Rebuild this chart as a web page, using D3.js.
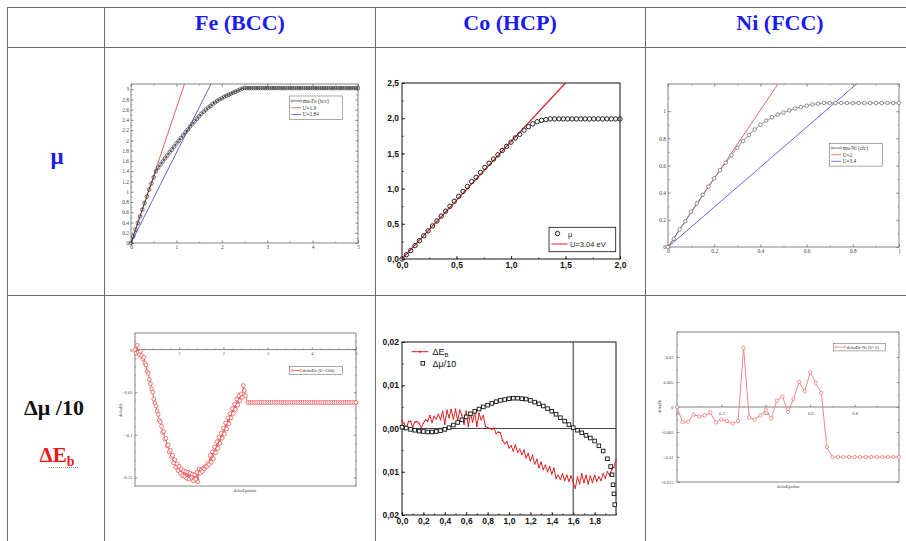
<!DOCTYPE html>
<html>
<head>
<meta charset="utf-8">
<script src="https://cdn.jsdelivr.net/npm/d3@7"></script>
<style>
  body { margin: 0; background: #fff; }
</style>
</head>
<body>
<div id="table"></div>
<script>
"use strict";

// table texts
const headers = ["Fe (BCC)", "Co (HCP)", "Ni (FCC)"];

// Fe (bcc) mu, x step 0.05 from 0 to 5
const feMuStep = 0.05;
const feMu = [0, 0.13, 0.26, 0.39, 0.52, 0.65, 0.78, 0.91, 1.04, 1.16,
  1.28, 1.4, 1.47, 1.53, 1.59, 1.65, 1.71, 1.77, 1.82, 1.88,
  1.94, 1.99, 2.05, 2.1, 2.16, 2.21, 2.27, 2.32, 2.37, 2.42,
  2.47, 2.52, 2.56, 2.6, 2.64, 2.67, 2.71, 2.74, 2.77, 2.8,
  2.82, 2.85, 2.87, 2.89, 2.91, 2.93, 2.95, 2.97, 2.99, 3.01,
  3.02, 3.02, 3.02, 3.02, 3.02, 3.02, 3.02, 3.02, 3.02, 3.02,
  3.02, 3.02, 3.02, 3.02, 3.02, 3.02, 3.02, 3.02, 3.02, 3.02,
  3.02, 3.02, 3.02, 3.02, 3.02, 3.02, 3.02, 3.02, 3.02, 3.02,
  3.02, 3.02, 3.02, 3.02, 3.02, 3.02, 3.02, 3.02, 3.02, 3.02,
  3.02, 3.02, 3.02, 3.02, 3.02, 3.02, 3.02, 3.02, 3.02, 3.02, 3.02];
const feULabels = ["U=1.9", "U=2.84"];
const feUSlopes = [2.63, 1.76];

// Co (hcp) mu, x step 0.04 from 0 to 2
const coMuStep = 0.04;
const coMu = [0, 0.06, 0.12, 0.19, 0.26, 0.33, 0.40, 0.47, 0.54, 0.61,
  0.68, 0.75, 0.82, 0.89, 0.96, 1.03, 1.10, 1.16, 1.23, 1.30,
  1.36, 1.42, 1.48, 1.54, 1.60, 1.66, 1.72, 1.77, 1.83, 1.88,
  1.92, 1.95, 1.97, 1.98, 1.99, 1.99, 1.99, 1.99, 1.99, 1.99,
  1.99, 1.99, 1.99, 1.99, 1.99, 1.99, 1.99, 1.99, 1.99, 1.99, 1.99];
const coULabel = "U=3.04 eV";
const coUSlope = 1.667;

// Ni (fcc) mu, x step 0.025 from 0 to 1
const niMuStep = 0.025;
const niMu = [0, 0.06, 0.13, 0.19, 0.26, 0.32, 0.385, 0.445, 0.505, 0.565,
  0.62, 0.675, 0.73, 0.78, 0.825, 0.865, 0.9, 0.93, 0.955, 0.975,
  0.99, 1.005, 1.02, 1.03, 1.04, 1.05, 1.055, 1.06, 1.06, 1.06,
  1.06, 1.06, 1.06, 1.06, 1.06, 1.06, 1.06, 1.06, 1.06, 1.06, 1.06];
const niULabels = ["U=2", "U=3.4"];
const niUSlopes = [2.52, 1.47];

// Fe deltaEb: step 0.025 up to 2.5, then step 0.05 from 2.55 to 5
const feDeStep = 0.025;
const feDe = [0, -0.004, 0.005, -0.003, -0.006, -0.002, -0.007, -0.011, -0.009, -0.016,
  -0.018, -0.026, -0.028, -0.035, -0.04, -0.046, -0.05, -0.058, -0.063, -0.066,
  -0.072, -0.076, -0.083, -0.085, -0.09, -0.097, -0.096, -0.105, -0.104, -0.113,
  -0.112, -0.12, -0.118, -0.126, -0.124, -0.133, -0.129, -0.138, -0.134, -0.142,
  -0.137, -0.145, -0.14, -0.148, -0.142, -0.149, -0.143, -0.151, -0.144, -0.152,
  -0.145, -0.15, -0.146, -0.154, -0.147, -0.152, -0.144, -0.155, -0.14, -0.145,
  -0.141, -0.143, -0.139, -0.14, -0.137, -0.137, -0.133, -0.135, -0.124, -0.132,
  -0.12, -0.128, -0.114, -0.121, -0.108, -0.116, -0.103, -0.11, -0.098, -0.104,
  -0.092, -0.099, -0.086, -0.093, -0.08, -0.087, -0.075, -0.08, -0.069, -0.075,
  -0.064, -0.07, -0.058, -0.065, -0.054, -0.06, -0.052, -0.056, -0.042, -0.048, -0.054];
const feDeFlatStart = 2.55, feDeFlatStep = 0.05;
const feDeFlat = [-0.062, -0.062, -0.062, -0.062, -0.062, -0.062, -0.062, -0.062, -0.062, -0.062,
  -0.062, -0.062, -0.062, -0.062, -0.062, -0.062, -0.062, -0.062, -0.062, -0.062,
  -0.062, -0.062, -0.062, -0.062, -0.062, -0.062, -0.062, -0.062, -0.062, -0.062,
  -0.062, -0.062, -0.062, -0.062, -0.062, -0.062, -0.062, -0.062, -0.062, -0.062,
  -0.062, -0.062, -0.062, -0.062, -0.062, -0.062, -0.062, -0.062, -0.062, -0.062];

// Co deltaE_B, x step 0.02 from 0 to 2
const coDeStep = 0.02;
const coDe = [0.0018, 0.0012, 0.0000, 0.0016, 0.0017, 0.0003, 0.0015, 0.0016, 0.0012, 0.0002,
  0.0012, 0.0020, 0.0017, 0.0030, 0.0014, 0.0028, 0.0022, 0.0033, 0.0020, 0.0040,
  0.0010, 0.0042, 0.0025, 0.0044, 0.0022, 0.0045, 0.0018, 0.0042, 0.0030, 0.0010,
  0.0040, 0.0005, 0.0035, 0.0015, 0.0038, 0.0005, 0.0035, 0.0020, 0.0030, 0.0005,
  0.0002, 0.0000, -0.0002, 0.0001, -0.0012, -0.0008, -0.0010, -0.0028, -0.0035, -0.0030,
  -0.0045, -0.0040, -0.0052, -0.0038, -0.0055, -0.0048, -0.0060, -0.0050, -0.0068, -0.0058,
  -0.0075, -0.0062, -0.0082, -0.0072, -0.0090, -0.0078, -0.0095, -0.0085, -0.0100, -0.0088,
  -0.0105, -0.0092, -0.0115, -0.0108, -0.0118, -0.0105, -0.0120, -0.0108, -0.0122, -0.0110,
  -0.0125, -0.0138, -0.0112, -0.0128, -0.0105, -0.0125, -0.0108, -0.0128, -0.0110, -0.0125,
  -0.0108, -0.0122, -0.0112, -0.0120, -0.0105, -0.0115, -0.0100, -0.0108, -0.0095, -0.0090, -0.0072];

// Co delta mu / 10, x step 0.04 up to 1.92, then a steep tail
const coDmStep = 0.04;
const coDm = [0.0003, 0.0001, -0.0002, -0.0004, -0.0006, -0.0007, -0.0008, -0.0008, -0.0007, -0.0005,
  -0.0002, 0.0002, 0.0008, 0.0014, 0.0020, 0.0027, 0.0034, 0.0040, 0.0045, 0.0050,
  0.0054, 0.0058, 0.0062, 0.0065, 0.0067, 0.0069, 0.0070, 0.0070, 0.0069, 0.0068,
  0.0065, 0.0061, 0.0057, 0.0052, 0.0046, 0.0040, 0.0033, 0.0025, 0.0017, 0.0009,
  0.0002, -0.0004, -0.0010, -0.0016, -0.0022, -0.0029, -0.0040, -0.0052, -0.0070];
const coDmTailX = [1.95, 1.963, 1.972, 1.981, 1.988];
const coDmTailY = [-0.0088, -0.0107, -0.013, -0.0151, -0.0176];

// Ni deltaEb, x step 0.025 from 0 to 1
const niDeStep = 0.025;
const niDe = [0, -0.003, -0.0029, -0.0015, -0.0019, -0.0017, -0.0011, -0.0031, -0.0025, -0.0028,
  -0.0033, -0.0028, 0.0118, -0.0021, -0.0025, -0.0017, -0.0005, -0.0023, 0.0013, 0.0021,
  -0.001, 0.0016, 0.005, 0.0031, 0.0069, 0.0048, 0.0028, -0.008, -0.01, -0.01,
  -0.01, -0.01, -0.01, -0.01, -0.01, -0.01, -0.01, -0.01, -0.01, -0.01, -0.01];

const SERIF = "'Liberation Serif', 'Times New Roman', serif";
const SANS = "'Liberation Sans', Arial, sans-serif";

const svg = d3.select("#table").append("svg")
  .attr("width", 906).attr("height", 541).style("display", "block");

// the Co cells crop their images a little inside the column line
const defs = svg.append("defs");
defs.append("clipPath").attr("id", "coClipTop")
  .append("rect").attr("x", 382.5).attr("y", 48).attr("width", 262).attr("height", 247);
defs.append("clipPath").attr("id", "coClipBottom")
  .append("rect").attr("x", 382.5).attr("y", 296).attr("width", 262).attr("height", 245);

// table grid
const colX = [7, 104, 375, 645];
const rowY = [7, 47, 295];
const grid = svg.append("g").attr("stroke", "#6b6b6b").attr("stroke-width", 1);
colX.forEach(x => grid.append("line").attr("x1", x + 0.5).attr("x2", x + 0.5).attr("y1", 7).attr("y2", 541));
rowY.forEach(y => grid.append("line").attr("x1", 7).attr("x2", 906).attr("y1", y + 0.5).attr("y2", y + 0.5));

// headers
const headX = [240, 510, 780];
headers.forEach((h, i) => {
  svg.append("text").attr("x", headX[i]).attr("y", 30)
    .attr("text-anchor", "middle").attr("font-family", SERIF).attr("font-weight", "bold")
    .attr("font-size", 22).attr("fill", "#1b1bf0").text(h);
});

// row labels
svg.append("text").attr("x", 57).attr("y", 164).attr("text-anchor", "middle")
  .attr("font-family", SERIF).attr("font-weight", "bold").attr("font-size", 23)
  .attr("fill", "#1b1bf0").text("μ");
svg.append("text").attr("x", 54).attr("y", 415).attr("text-anchor", "middle")
  .attr("font-family", SERIF).attr("font-weight", "bold").attr("font-size", 22)
  .attr("fill", "#111").text("Δμ /10");
const eb = svg.append("text").attr("x", 57).attr("y", 462).attr("text-anchor", "middle")
  .attr("font-family", SERIF).attr("font-weight", "bold").attr("font-size", 21).attr("fill", "#ee1515");
eb.append("tspan").text("ΔE");
eb.append("tspan").attr("font-size", 14).attr("dy", 4).text("b");
svg.append("line").attr("x1", 49).attr("x2", 78).attr("y1", 467.5).attr("y2", 467.5)
  .attr("stroke", "#e06060").attr("stroke-width", 0.8).attr("stroke-dasharray", "1,1");

function seq(a, b, s) {
  const n = Math.round((b - a) / s);
  return d3.range(n + 1).map(i => +(a + i * s).toFixed(6));
}
const gfmt = d3.format("~g");
const comma = f => v => d3.format(f)(v).replace(".", ",");
const blank = () => "";

function drawAxis(g, gen, tx, ty, vals, size, pad, fmt, st) {
  const a = g.append("g").attr("transform", `translate(${tx},${ty})`)
    .call(gen.tickValues(vals).tickSizeInner(size).tickSizeOuter(0).tickPadding(pad).tickFormat(fmt));
  a.select(".domain").remove();
  a.attr("font-size", st.fs).attr("font-family", st.family).attr("font-weight", st.weight);
  a.selectAll("line").attr("stroke", st.tick).attr("stroke-width", st.tw);
  a.selectAll("text").attr("fill", st.text);
  return a;
}

// xmgrace style panel
function gracePanel(box, xd, yd, o) {
  const g = svg.append("g");
  const x = d3.scaleLinear().domain(xd).range([box.l, box.r]);
  const y = d3.scaleLinear().domain(yd).range([box.b, box.t]);
  const st = { fs: o.fs, family: SERIF, weight: "normal", tick: "#777", text: "#444", tw: 0.6 };
  const ax = o.zeroAxis ? y(0) : box.b;
  if (o.zeroAxis) {
    g.append("line").attr("x1", box.l).attr("x2", box.r).attr("y1", ax).attr("y2", ax)
      .attr("stroke", "#666").attr("stroke-width", 0.8);
  }
  drawAxis(g, d3.axisBottom(x), 0, ax, o.xMaj, -o.tl, o.xPad, gfmt, st);
  drawAxis(g, d3.axisBottom(x), 0, ax, o.xMin, -o.tl / 2, 0, blank, st);
  if (!o.zeroAxis) {
    drawAxis(g, d3.axisTop(x), 0, box.t, o.xMaj, -o.tl, 0, blank, st);
    drawAxis(g, d3.axisTop(x), 0, box.t, o.xMin, -o.tl / 2, 0, blank, st);
  }
  drawAxis(g, d3.axisLeft(y), box.l, 0, o.yMaj, -o.tl, o.yPad, gfmt, st);
  drawAxis(g, d3.axisLeft(y), box.l, 0, o.yMin, -o.tl / 2, 0, blank, st);
  drawAxis(g, d3.axisRight(y), box.r, 0, o.yMaj, -o.tl, 0, blank, st);
  drawAxis(g, d3.axisRight(y), box.r, 0, o.yMin, -o.tl / 2, 0, blank, st);
  g.append("rect").attr("x", box.l).attr("y", box.t)
    .attr("width", box.r - box.l).attr("height", box.b - box.t)
    .attr("fill", "none").attr("stroke", "#666").attr("stroke-width", 0.8);
  return { g, x, y };
}

function series(g, x, y, pts, color, r, lw, fill) {
  g.append("path").datum(pts)
    .attr("d", d3.line().x(d => x(d[0])).y(d => y(d[1])))
    .attr("fill", "none").attr("stroke", color).attr("stroke-width", lw);
  g.append("g").selectAll("circle").data(pts).join("circle")
    .attr("cx", d => x(d[0])).attr("cy", d => y(d[1])).attr("r", r)
    .attr("fill", fill).attr("stroke", color).attr("stroke-width", 0.7);
}

function fitLine(g, x, y, slope, color, w) {
  const xe = Math.min(x.domain()[1], y.domain()[1] / slope);
  g.append("path").datum([[0, 0], [xe, slope * xe]])
    .attr("d", d3.line().x(d => x(d[0])).y(d => y(d[1])))
    .attr("fill", "none").attr("stroke", color).attr("stroke-width", w);
}

function stepPts(vals, step, start) {
  return vals.map((v, i) => [+((start || 0) + i * step).toFixed(6), v]);
}

function graceLegend(g, bx, by, bw, rows, fs, rowH) {
  g.append("rect").attr("x", bx).attr("y", by).attr("width", bw)
    .attr("height", rows.length * rowH + 3).attr("fill", "#fff")
    .attr("stroke", "#555").attr("stroke-width", 0.5);
  rows.forEach((r, i) => {
    const cy = by + 1.5 + rowH / 2 + i * rowH;
    g.append("line").attr("x1", bx + 2).attr("x2", bx + 12).attr("y1", cy).attr("y2", cy)
      .attr("stroke", r.color).attr("stroke-width", 0.7);
    if (r.sym) {
      [bx + 2.5, bx + 11.5].forEach(cx => g.append("circle").attr("cx", cx).attr("cy", cy)
        .attr("r", 1.1).attr("fill", "#fff").attr("stroke", r.color).attr("stroke-width", 0.5));
    }
    g.append("text").attr("x", bx + 13.5).attr("y", cy + fs * 0.35)
      .attr("font-family", SERIF).attr("font-size", fs).attr("fill", "#333").text(r.text);
  });
}

function graceTitle(g, x, y, txt, rot) {
  g.append("text").attr("transform", `translate(${x},${y}) rotate(${rot})`)
    .attr("text-anchor", "middle").attr("font-family", SERIF).attr("font-size", 4.5)
    .attr("fill", "#444").text(txt);
}

// ---- Fe mu ----
{
  const p = gracePanel({ l: 131, t: 84, r: 358, b: 243 }, [0, 5], [0, 3.1], {
    fs: 5.5, tl: 3, xPad: 2.5, yPad: 2,
    xMaj: seq(0, 5, 1), xMin: seq(0, 5, 0.5), yMaj: seq(0, 3, 0.2), yMin: seq(0, 3.1, 0.1)
  });
  fitLine(p.g, p.x, p.y, feUSlopes[0], "#e23b3b", 0.8);
  fitLine(p.g, p.x, p.y, feUSlopes[1], "#3b3be0", 0.8);
  series(p.g, p.x, p.y, stepPts(feMu, feMuStep), "#333", 1.8, 0.8, "none");
  graceLegend(p.g, 289.3, 96, 53, [
    { text: "mu-Fe (bcc)", color: "#444", sym: true },
    { text: feULabels[0], color: "#e23b3b" },
    { text: feULabels[1], color: "#3b3be0" }], 5.3, 6.8);
}

// ---- Ni mu ----
{
  const p = gracePanel({ l: 668, t: 84, r: 899, b: 247 }, [0, 1], [0, 1.2], {
    fs: 5.5, tl: 3, xPad: 2.5, yPad: 2,
    xMaj: seq(0, 1, 0.2), xMin: seq(0, 1, 0.1), yMaj: seq(0, 1, 0.2), yMin: seq(0, 1.2, 0.1)
  });
  fitLine(p.g, p.x, p.y, niUSlopes[0], "#e64040", 0.8);
  fitLine(p.g, p.x, p.y, niUSlopes[1], "#4040e0", 0.8);
  series(p.g, p.x, p.y, stepPts(niMu, niMuStep), "#666", 1.8, 0.7, "#fff");
  graceLegend(p.g, 829.3, 143.3, 53, [
    { text: "mu-Ni (cfc)", color: "#555", sym: true },
    { text: niULabels[0], color: "#e64040" },
    { text: niULabels[1], color: "#4040e0" }], 5.3, 6.6);
}

// ---- Fe deltaEb ----
{
  const p = gracePanel({ l: 135, t: 333, r: 356, b: 486 }, [0, 5], [-0.16, 0.0195], {
    fs: 4.5, tl: 2.5, zeroAxis: true, xPad: 2, yPad: 2.5,
    xMaj: seq(0, 5, 1), xMin: seq(0, 5, 0.2), yMaj: seq(-0.15, 0, 0.05), yMin: seq(-0.16, 0.01, 0.01)
  });
  const pts = stepPts(feDe, feDeStep).concat(stepPts(feDeFlat, feDeFlatStep, feDeFlatStart));
  series(p.g, p.x, p.y, pts, "#ee4040", 1.9, 0.8, "#fff");
  graceLegend(p.g, 289.3, 366.7, 53, [{ text: "deltaEb (U=2.84)", color: "#ee4040", sym: true }], 4.5, 4.6);
  graceTitle(p.g, 121.5, 410, "deltaEb", -90);
  graceTitle(p.g, 245, 492, "deltaEpsilon", 0);
}

// ---- Ni deltaEb ----
{
  const p = gracePanel({ l: 677, t: 332, r: 899, b: 482 }, [0, 1], [-0.015, 0.015], {
    fs: 4.5, tl: 2.5, zeroAxis: true, xPad: 5, yPad: 3.5,
    xMaj: seq(0, 0.8, 0.2), xMin: seq(0, 1, 0.1), yMaj: seq(-0.015, 0.01, 0.005), yMin: seq(-0.015, 0.015, 0.0025)
  });
  series(p.g, p.x, p.y, stepPts(niDe, niDeStep), "#f06a6a", 1.7, 0.8, "#fff");
  graceLegend(p.g, 833.3, 343.3, 52.4, [{ text: "deltaEb-Ni (U=2)", color: "#f06a6a", sym: true }], 4.5, 4.6);
  graceTitle(p.g, 661, 406.7, "deltaEb", -90);
  graceTitle(p.g, 788.3, 488, "deltaEpsilon", 0);
}

// origin style panel (Co column)
function originPanel(box, xd, yd, o, clip) {
  const g = svg.append("g").attr("clip-path", `url(#${clip})`);
  const x = d3.scaleLinear().domain(xd).range([box.l, box.r]);
  const y = d3.scaleLinear().domain(yd).range([box.b, box.t]);
  const st = { fs: 8.5, family: SANS, weight: "bold", tick: "#111", text: "#111", tw: 0.8 };
  drawAxis(g, d3.axisBottom(x), 0, box.b, o.xMaj, -3, 3, o.xFmt, st);
  drawAxis(g, d3.axisBottom(x), 0, box.b, o.xMin, -1.6, 0, blank, st);
  drawAxis(g, d3.axisLeft(y), box.l, 0, o.yMaj, -3, 3, o.yFmt, st);
  drawAxis(g, d3.axisLeft(y), box.l, 0, o.yMin, -1.6, 0, blank, st);
  g.append("rect").attr("x", box.l).attr("y", box.t)
    .attr("width", box.r - box.l).attr("height", box.b - box.t)
    .attr("fill", "none").attr("stroke", "#111").attr("stroke-width", 1);
  return { g, x, y };
}

// ---- Co mu ----
{
  const p = originPanel({ l: 402, t: 83, r: 620, b: 259 }, [0, 2], [0, 2.5], {
    xMaj: seq(0, 2, 0.5), xMin: seq(0, 2, 0.25), xFmt: comma(".1f"),
    yMaj: seq(0, 2.5, 0.5), yMin: seq(0, 2.5, 0.25), yFmt: comma(".1f")
  }, "coClipTop");
  fitLine(p.g, p.x, p.y, coUSlope, "#d42222", 1.2);
  p.g.append("g").selectAll("circle").data(stepPts(coMu, coMuStep)).join("circle")
    .attr("cx", d => p.x(d[0])).attr("cy", d => p.y(d[1])).attr("r", 2.2)
    .attr("fill", "none").attr("stroke", "#222").attr("stroke-width", 1);
  const lg = p.g.append("g");
  lg.append("rect").attr("x", 549).attr("y", 227.3).attr("width", 66.7).attr("height", 24.4)
    .attr("fill", "#fff").attr("stroke", "#111").attr("stroke-width", 0.8);
  lg.append("circle").attr("cx", 557.5).attr("cy", 233.5).attr("r", 2.2)
    .attr("fill", "none").attr("stroke", "#222").attr("stroke-width", 1);
  lg.append("text").attr("x", 568).attr("y", 236.5).attr("font-family", SANS)
    .attr("font-size", 7.5).attr("fill", "#222").text("μ");
  lg.append("line").attr("x1", 551.5).attr("x2", 567.5).attr("y1", 244).attr("y2", 244)
    .attr("stroke", "#d42222").attr("stroke-width", 1.2);
  lg.append("text").attr("x", 570).attr("y", 246.8).attr("font-family", SANS)
    .attr("font-size", 7.5).attr("fill", "#222").text(coULabel);
}

// ---- Co deltaE_B and delta mu / 10 ----
{
  const p = originPanel({ l: 402, t: 342, r: 616, b: 515 }, [0, 2], [-0.02, 0.02], {
    xMaj: seq(0, 1.8, 0.2), xMin: seq(0, 2, 0.1), xFmt: comma(".1f"),
    yMaj: seq(-0.02, 0.02, 0.01), yMin: seq(-0.02, 0.02, 0.005), yFmt: comma(".2f")
  }, "coClipBottom");
  p.g.append("line").attr("x1", p.x(0)).attr("x2", p.x(2)).attr("y1", p.y(0)).attr("y2", p.y(0))
    .attr("stroke", "#444").attr("stroke-width", 1.1);
  p.g.append("line").attr("x1", p.x(1.6)).attr("x2", p.x(1.6)).attr("y1", p.y(0.02)).attr("y2", p.y(-0.02))
    .attr("stroke", "#444").attr("stroke-width", 1.1);
  const ePts = stepPts(coDe, coDeStep);
  p.g.append("path").datum(ePts)
    .attr("d", d3.line().x(d => p.x(d[0])).y(d => p.y(d[1])))
    .attr("fill", "none").attr("stroke", "#dd2020").attr("stroke-width", 1);
  p.g.append("g").selectAll("circle").data(ePts).join("circle")
    .attr("cx", d => p.x(d[0])).attr("cy", d => p.y(d[1])).attr("r", 0.8).attr("fill", "#dd2020");
  const mPts = stepPts(coDm, coDmStep).concat(coDmTailX.map((v, i) => [v, coDmTailY[i]]));
  p.g.append("g").selectAll("rect").data(mPts).join("rect")
    .attr("x", d => p.x(d[0]) - 1.8).attr("y", d => p.y(d[1]) - 1.8)
    .attr("width", 3.6).attr("height", 3.6)
    .attr("fill", "#fff").attr("stroke", "#111").attr("stroke-width", 0.9);
  const lg = p.g.append("g");
  lg.append("line").attr("x1", 411.5).attr("x2", 428.5).attr("y1", 351.7).attr("y2", 351.7)
    .attr("stroke", "#dd2020").attr("stroke-width", 1);
  lg.append("circle").attr("cx", 420).attr("cy", 351.7).attr("r", 1).attr("fill", "#dd2020");
  const t1 = lg.append("text").attr("x", 432.5).attr("y", 355).attr("font-family", SANS)
    .attr("font-size", 9).attr("fill", "#111");
  t1.append("tspan").text("ΔE");
  t1.append("tspan").attr("font-size", 6).attr("dy", 2).text("B");
  lg.append("rect").attr("x", 421).attr("y", 361.5).attr("width", 3.6).attr("height", 3.6)
    .attr("fill", "#fff").attr("stroke", "#111").attr("stroke-width", 0.9);
  lg.append("text").attr("x", 432.5).attr("y", 367).attr("font-family", SANS)
    .attr("font-size", 9).attr("fill", "#111").text("Δμ/10");
}
</script>
</body>
</html>
